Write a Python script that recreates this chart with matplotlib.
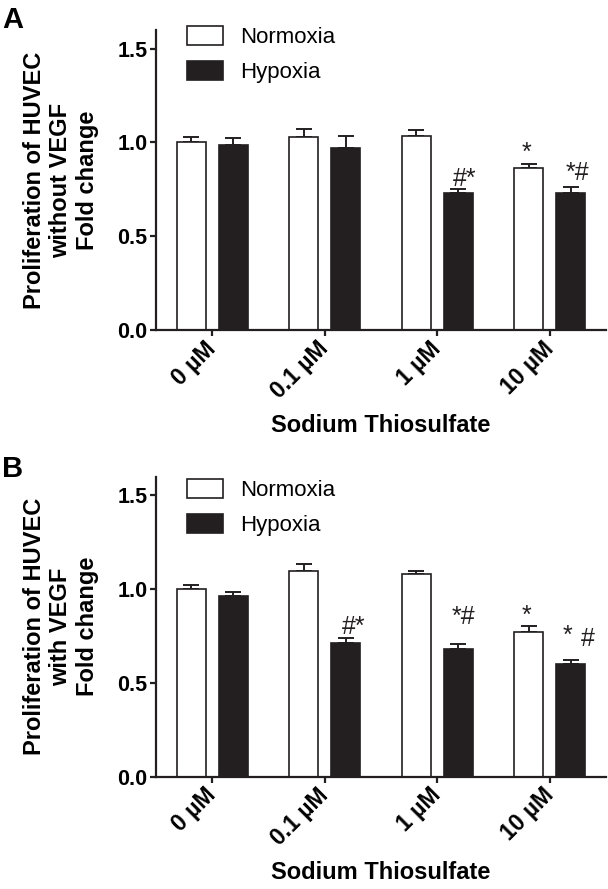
import numpy as np
import matplotlib
matplotlib.use("Agg")
import matplotlib.pyplot as plt

plt.rcParams['font.family'] = ['Liberation Sans', 'DejaVu Sans']

# data
doses = ['0 µM', '0.1 µM', '1 µM', '10 µM']
series = ['Normoxia', 'Hypoxia']

a_norm = [1.00, 1.03, 1.034, 0.863]
a_norm_err = [0.03, 0.04, 0.03, 0.022]
a_hyp = [0.989, 0.973, 0.729, 0.729]
a_hyp_err = [0.034, 0.06, 0.025, 0.032]

b_norm = [1.00, 1.098, 1.080, 0.771]
b_norm_err = [0.02, 0.035, 0.018, 0.035]
b_hyp = [0.966, 0.714, 0.679, 0.600]
b_hyp_err = [0.02, 0.025, 0.03, 0.023]

ylabels = ['Proliferation of HUVEC\nwithout VEGF\nFold change',
           'Proliferation of HUVEC\nwith VEGF\nFold change']
xlabel = 'Sodium Thiosulfate'
panel_letters = ['A', 'B']

# significance marks: (group index, series index, text)
a_marks = [(2, 1, '#*'), (3, 0, '*'), (3, 1, '*#')]
b_marks = [(1, 1, '#*'), (2, 1, '*#'), (3, 0, '*'), (3, 1, '*'), (3, 1, '#')]
# offsets of the marks in points (dx, dy), same order as above
a_mark_off = [(5, 2), (-2, 3), (5, 5)]
b_mark_off = [(6, 3), (4, 14), (-2, 2), (-2, 12), (12, 10)]

colors = ['white', '#231f20']
width = 0.258
offs = [-0.186, 0.186]

fig = plt.figure(figsize=(6.08, 8.89), dpi=100)
ax_a = fig.add_axes([0.2566, 0.6288, 0.7401, 0.3375])
ax_b = fig.add_axes([0.2566, 0.1263, 0.7401, 0.3375])

panels = [
    (ax_a, [a_norm, a_hyp], [a_norm_err, a_hyp_err], a_marks, a_mark_off, 1.013),
    (ax_b, [b_norm, b_hyp], [b_norm_err, b_hyp_err], b_marks, b_mark_off, 0.992),
]

x = np.arange(len(doses))
for i, (ax, vals, errs, marks, moff, leg_y) in enumerate(panels):
    for s in range(2):
        ax.bar(x + offs[s], vals[s], width, color=colors[s], edgecolor='#231f20',
               linewidth=1.2, label=series[s], zorder=2)
        ax.errorbar(x + offs[s], vals[s], yerr=[np.zeros(len(doses)), errs[s]],
                    fmt='none', ecolor='#231f20', elinewidth=1.4, capsize=5.5,
                    capthick=1.4, zorder=1)
    for (g, s, txt), (dx, dy) in zip(marks, moff):
        ax.annotate(txt, (x[g] + offs[s], vals[s][g] + errs[s][g]),
                    xytext=(dx, dy), textcoords='offset points',
                    ha='center', va='baseline', fontsize=18, color='#231f20')

    ax.set_xlim(-0.5, 3.5)
    ax.set_ylim(0, 1.6)
    ax.set_yticks([0, 0.5, 1.0, 1.5])
    ax.set_yticklabels(['%.1f' % v for v in [0, 0.5, 1.0, 1.5]],
                       fontsize=15.5, fontweight='bold')
    ax.set_xticks(x)
    ax.set_xticklabels(doses, rotation=45, ha='right', va='center',
                       rotation_mode='anchor', fontsize=16.5, fontweight='bold')
    for sp in ['top', 'right']:
        ax.spines[sp].set_visible(False)
    for sp in ['left', 'bottom']:
        ax.spines[sp].set_linewidth(1.6)
        ax.spines[sp].set_color('#231f20')
    ax.tick_params(axis='both', length=4, width=1.6, color='#231f20')
    ax.tick_params(axis='y', pad=2)
    ax.tick_params(axis='x', pad=7)

    ax.set_xlabel(xlabel, fontsize=17, fontweight='bold', labelpad=8)
    ax.set_ylabel(ylabels[i], fontsize=17, fontweight='bold', linespacing=1.2)
    ax.yaxis.set_label_coords(-0.127, 0.5)

    ax.legend(loc='upper left', bbox_to_anchor=(0.069, leg_y), frameon=False,
              fontsize=16, handlelength=1.62, handleheight=0.95,
              labelspacing=0.56, handletextpad=0.77, borderpad=0,
              borderaxespad=0)

fig.text(0.003, 0.9685, panel_letters[0], fontsize=21, fontweight='bold')
fig.text(0.003, 0.4634, panel_letters[1], fontsize=21, fontweight='bold')

fig.savefig('out.png', dpi=100)
